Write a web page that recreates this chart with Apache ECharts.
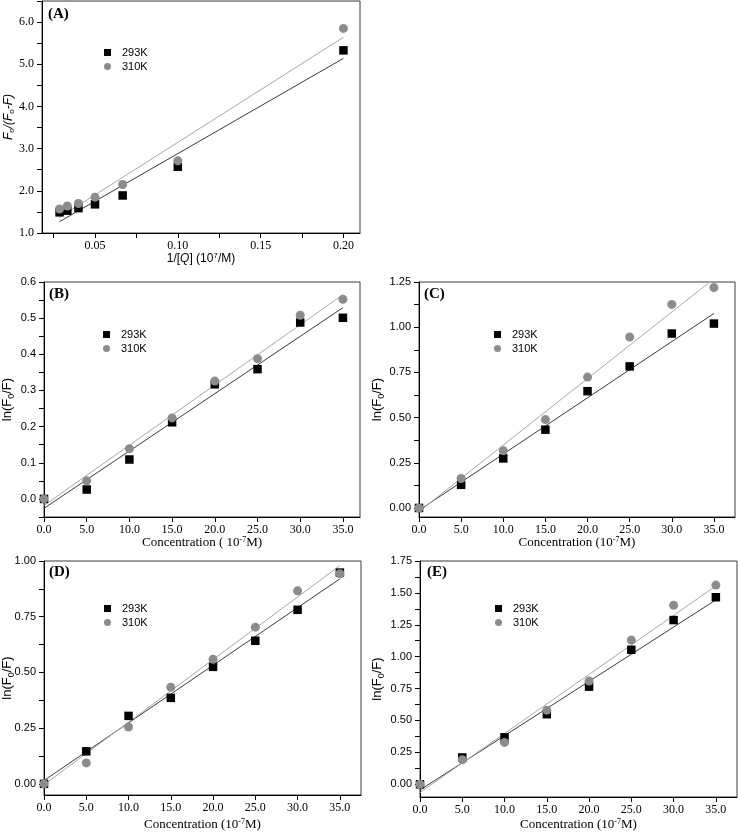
<!DOCTYPE html>
<html><head><meta charset="utf-8">
<script src="https://cdn.jsdelivr.net/npm/echarts@6/dist/echarts.min.js"></script>
<style>html,body{margin:0;padding:0;background:#fff}#c{width:738px;height:832px}</style>
</head><body><div id="c"></div>
<script>
// ---------- data ----------
const inverseQ = [0.0286, 0.0333, 0.0400, 0.0500, 0.0667, 0.1000, 0.2000];
const concentration = [0, 5, 10, 15, 20, 25, 30, 35];

const A_293K = [1.49, 1.53, 1.59, 1.68, 1.89, 2.57, 5.33];
const A_310K = [1.57, 1.64, 1.70, 1.85, 2.15, 2.71, 5.85];
const A_fit293K = [[0.0286, 1.27], [0.2, 5.14]];
const A_fit310K = [[0.0286, 1.37], [0.2, 5.64]];

const B_293K = [0, 0.026, 0.109, 0.212, 0.317, 0.359, 0.488, 0.501];
const B_310K = [0, 0.050, 0.139, 0.224, 0.326, 0.388, 0.508, 0.552];
const B_fit293K = [[0, -0.026], [35, 0.529]];
const B_fit310K = [[0, -0.018], [35, 0.565]];

const C_293K = [0, 0.128, 0.274, 0.433, 0.646, 0.783, 0.965, 1.020];
const C_310K = [0, 0.163, 0.317, 0.489, 0.724, 0.946, 1.126, 1.219];
const C_fit293K = [[0, -0.013], [35, 1.076]];
const C_fit310K = [[0, -0.020], [35, 1.268]];

const D_293K = [0, 0.146, 0.305, 0.386, 0.525, 0.642, 0.781, 0.948];
const D_310K = [0, 0.094, 0.255, 0.434, 0.559, 0.703, 0.866, 0.943];
const D_fit293K = [[0, 0.015], [35, 0.920]];
const D_fit310K = [[0, -0.004], [35, 0.979]];

const E_293K = [0, 0.210, 0.368, 0.549, 0.765, 1.054, 1.287, 1.466];
const E_310K = [0, 0.192, 0.328, 0.581, 0.809, 1.130, 1.403, 1.561];
const E_fit293K = [[0, -0.045], [35, 1.445]];
const E_fit310K = [[0, -0.065], [35, 1.555]];

// tick labels / tick positions
const A_xLabels = [0.05, 0.10, 0.15, 0.20];
const A_xTicks = [0.025, 0.05, 0.075, 0.10, 0.125, 0.15, 0.175, 0.20];
const A_yLabels = [1, 2, 3, 4, 5, 6];
const A_yTicks = [1, 1.5, 2, 2.5, 3, 3.5, 4, 4.5, 5, 5.5, 6, 6.5];
const conc_labels = [0, 5, 10, 15, 20, 25, 30, 35];
const B_yLabels = [0, 0.1, 0.2, 0.3, 0.4, 0.5, 0.6];
const B_yTicks = [-0.05, 0, 0.05, 0.1, 0.15, 0.2, 0.25, 0.3, 0.35, 0.4, 0.45, 0.5, 0.55, 0.6];
const C_yLabels = [0, 0.25, 0.5, 0.75, 1.0, 1.25];
const C_yTicks = [0, 0.125, 0.25, 0.375, 0.5, 0.625, 0.75, 0.875, 1.0, 1.125, 1.25];
const D_yLabels = [0, 0.25, 0.5, 0.75, 1.0];
const D_yTicks = [0, 0.125, 0.25, 0.375, 0.5, 0.625, 0.75, 0.875, 1.0];
const E_yLabels = [0, 0.25, 0.5, 0.75, 1.0, 1.25, 1.5, 1.75];
const E_yTicks = [0, 0.125, 0.25, 0.375, 0.5, 0.625, 0.75, 0.875, 1.0, 1.125, 1.25, 1.375, 1.5, 1.625, 1.75];

const seriesNames = ['293K', '310K'];
const panelLabels = ['(A)', '(B)', '(C)', '(D)', '(E)'];

// ---------- styling ----------
const SERIF = "'Liberation Serif','Times New Roman',serif";
const SANS = "'Liberation Sans',Arial,sans-serif";

const richY = {
  n: {fontFamily: SANS, fontSize: 13, color: '#000'},
  s: {fontFamily: SANS, fontSize: 9, color: '#000', verticalAlign: 'bottom', padding: [8, 0, 0, 0]},
  ni: {fontFamily: SANS, fontSize: 12, fontStyle: 'italic', color: '#000'},
  si: {fontFamily: SANS, fontSize: 8, fontStyle: 'italic', color: '#000', verticalAlign: 'bottom', padding: [7, 0, 0, 0]}
};
const richXSerif = {
  n: {fontFamily: SERIF, fontSize: 13, color: '#000'},
  p: {fontFamily: SERIF, fontSize: 8, color: '#000', verticalAlign: 'top', padding: [0, 0, 6, 0]}
};
const richXSans = {
  n: {fontFamily: SANS, fontSize: 12, color: '#000'},
  i: {fontFamily: SANS, fontSize: 12, fontStyle: 'italic', color: '#000'},
  p: {fontFamily: SANS, fontSize: 8, color: '#000', verticalAlign: 'top', padding: [0, 0, 6, 0]}
};

const panels = [
  {grid: {left: 42, top: 1, width: 318, height: 232},
   x: {min: 0.018, max: 0.21, labels: A_xLabels, ticks: A_xTicks, dec: 2,
       name: '{n|1/[}{i|Q}{n|] (10}{p|7}{n|/M)}', rich: richXSans, gap: 19},
   y: {min: 1, max: 6.5, labels: A_yLabels, ticks: A_yTicks, dec: 1, font: SERIF, size: 12,
       name: '{ni|F}{si|o}{ni|/(F}{si|o}{ni|-F)}', gap: 26},
   xs: [inverseQ, inverseQ], ys: [A_293K, A_310K], fits: [A_fit293K, A_fit310K],
   label: {left: 48, top: 7}, legend: {left: 104, top: 47}},
  {grid: {left: 44, top: 282, width: 316, height: 235},
   x: {min: 0, max: 37, labels: conc_labels, ticks: conc_labels, dec: 1,
       name: '{n|Concentration ( 10}{p|-7}{n|M)}', rich: richXSerif, gap: 19},
   y: {min: -0.05, max: 0.6, labels: B_yLabels, ticks: B_yTicks, dec: 1, font: SANS, size: 11,
       name: '{n|ln(F}{s|0}{n|/F)}', gap: 28},
   xs: [concentration, concentration], ys: [B_293K, B_310K], fits: [B_fit293K, B_fit310K],
   label: {left: 49, top: 287}, legend: {left: 103, top: 329}},
  {grid: {left: 419, top: 282, width: 316, height: 235},
   x: {min: 0, max: 37.5, labels: conc_labels, ticks: conc_labels, dec: 1,
       name: '{n|Concentration (10}{p|-7}{n|M)}', rich: richXSerif, gap: 19},
   y: {min: -0.05, max: 1.25, labels: C_yLabels, ticks: C_yTicks, dec: 2, font: SANS, size: 11,
       name: '{n|ln(F}{s|0}{n|/F)}', gap: 33},
   xs: [concentration, concentration], ys: [C_293K, C_310K], fits: [C_fit293K, C_fit310K],
   label: {left: 424, top: 287}, legend: {left: 494, top: 329}},
  {grid: {left: 44, top: 561, width: 317, height: 234},
   x: {min: 0, max: 37.5, labels: conc_labels, ticks: conc_labels, dec: 1,
       name: '{n|Concentration (10}{p|-7}{n|M)}', rich: richXSerif, gap: 23},
   y: {min: -0.05, max: 1.0, labels: D_yLabels, ticks: D_yTicks, dec: 2, font: SANS, size: 11,
       name: '{n|ln(F}{s|0}{n|/F)}', gap: 28},
   xs: [concentration, concentration], ys: [D_293K, D_310K], fits: [D_fit293K, D_fit310K],
   label: {left: 49, top: 565}, legend: {left: 104, top: 603}},
  {grid: {left: 420, top: 561, width: 317, height: 236},
   x: {min: 0, max: 37.5, labels: conc_labels, ticks: conc_labels, dec: 1,
       name: '{n|Concentration (10}{p|-7}{n|M)}', rich: richXSerif, gap: 21},
   y: {min: -0.1, max: 1.75, labels: E_yLabels, ticks: E_yTicks, dec: 2, font: SANS, size: 11,
       name: '{n|ln(F}{s|0}{n|/F)}', gap: 34},
   xs: [concentration, concentration], ys: [E_293K, E_310K], fits: [E_fit293K, E_fit310K],
   label: {left: 427, top: 565}, legend: {left: 495, top: 603}}
];

const grids = [], xAxes = [], yAxes = [], series = [], titles = [], legends = [];
const markerStyles = [
  {symbol: 'rect', size: 8.5, color: '#000000', z: 3},
  {symbol: 'circle', size: 9, color: '#8c8c8c', z: 4}
];
const fitColors = ['#3a3a3a', '#a8a8a8'];

panels.forEach((p, i) => {
  grids.push(Object.assign({show: true, borderColor: '#3c3c3c', borderWidth: 1,
    backgroundColor: 'transparent', containLabel: false, outerBoundsMode: 'none'}, p.grid));
  xAxes.push({
    type: 'value', gridIndex: i, min: p.x.min, max: p.x.max,
    axisLine: {show: true, onZero: false, lineStyle: {color: '#000', width: 1}},
    axisTick: {show: true, inside: false, length: 5, customValues: p.x.ticks, lineStyle: {color: '#000'}},
    axisLabel: {show: true, margin: 7, customValues: p.x.labels, fontFamily: SERIF, fontSize: 12, color: '#000',
      formatter: v => v.toFixed(p.x.dec)},
    splitLine: {show: false},
    name: p.x.name, nameLocation: 'middle', nameGap: p.x.gap, nameMoveOverlap: false,
    nameTextStyle: {rich: p.x.rich}
  });
  yAxes.push({
    type: 'value', gridIndex: i, min: p.y.min, max: p.y.max,
    axisLine: {show: true, onZero: false, lineStyle: {color: '#000', width: 1}},
    axisTick: {show: true, inside: false, length: 5, customValues: p.y.ticks, lineStyle: {color: '#000'}},
    axisLabel: {show: true, margin: 8, customValues: p.y.labels, fontFamily: p.y.font, fontSize: p.y.size, color: '#000',
      formatter: v => v.toFixed(p.y.dec)},
    splitLine: {show: false},
    name: p.y.name, nameLocation: 'middle', nameGap: p.y.gap, nameMoveOverlap: false,
    nameTextStyle: {rich: richY}
  });
  p.fits.forEach((f, k) => {
    series.push({
      type: 'line', name: 'fit ' + seriesNames[k] + ' ' + i, xAxisIndex: i, yAxisIndex: i,
      data: f, symbol: 'none', showSymbol: false, silent: true, z: 2,
      lineStyle: {color: fitColors[k], width: 1}, clip: true
    });
  });
  p.ys.forEach((ys, k) => {
    const m = markerStyles[k];
    series.push({
      type: 'scatter', name: seriesNames[k], xAxisIndex: i, yAxisIndex: i,
      data: ys.map((v, j) => [p.xs[k][j], v]),
      symbol: m.symbol, symbolSize: m.size, z: m.z,
      itemStyle: {color: m.color, opacity: 1}, clip: false
    });
  });
  titles.push({text: panelLabels[i], left: p.label.left, top: p.label.top, padding: 0,
    textStyle: {fontFamily: SERIF, fontWeight: 'bold', fontSize: 15, color: '#000'}});
  legends.push({
    data: seriesNames, orient: 'vertical', left: p.legend.left, top: p.legend.top,
    padding: 0, itemWidth: 7, itemHeight: 7, itemGap: 3, selectedMode: false,
    textStyle: {fontFamily: SANS, fontSize: 11, color: '#000', padding: [0, 0, 0, 6]}
  });
});

const chart = echarts.init(document.getElementById('c'), null, {renderer: 'canvas'});
chart.setOption({
  animation: false,
  backgroundColor: '#ffffff',
  title: titles,
  legend: legends,
  grid: grids,
  xAxis: xAxes,
  yAxis: yAxes,
  series: series
});
</script>
</body></html>
